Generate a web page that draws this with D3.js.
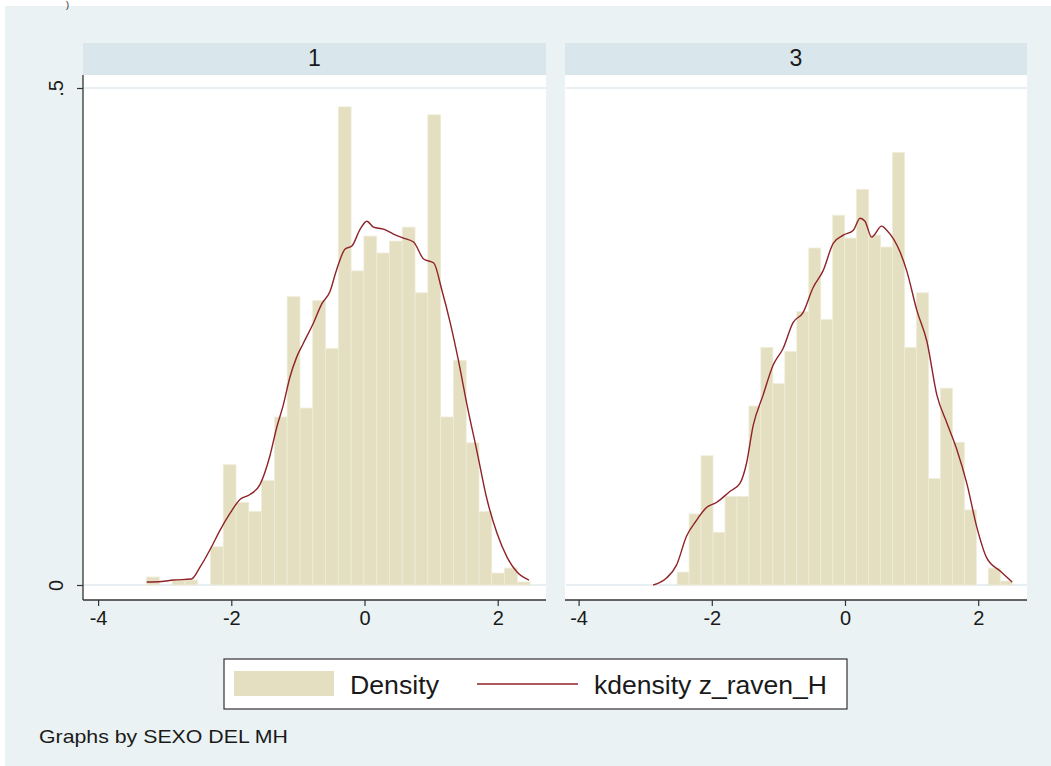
<!DOCTYPE html>
<html>
<head>
<meta charset="utf-8">
<script src="https://cdn.jsdelivr.net/npm/d3@7"></script>
<style>
  html, body { margin: 0; padding: 0; background: #ffffff; }
  svg { display: block; font-family: "Liberation Sans", Arial, Helvetica, sans-serif; }
</style>
</head>
<body>
<svg id="chart" width="1051" height="766"></svg>
<script>
// ---------- DATA ----------
const panelLabels = ["1", "3"];
const xTicks = [-4, -2, 0, 2];
const xTickLabels = ["-4", "-2", "0", "2"];
const yTicks = [0, 0.5];
const yTickLabels = ["0", ".5"];

// Histogram (30 bins per panel)
const binStartLeft = -3.273, binWidthLeft = 0.192;
const densityLeft = [0.008, 0, 0.005, 0.005, 0, 0.0385, 0.121, 0.083, 0.074, 0.105,
  0.169, 0.290, 0.178, 0.286, 0.238, 0.481, 0.316, 0.351, 0.334, 0.346,
  0.360, 0.294, 0.473, 0.169, 0.226, 0.143, 0.074, 0.012, 0.017, 0.003];

const binStartRight = -2.88, binWidthRight = 0.1797;
const densityRight = [0, 0, 0.013, 0.0715, 0.130, 0.053, 0.089, 0.089, 0.180, 0.239,
  0.2025, 0.235, 0.275, 0.339, 0.267, 0.372, 0.349, 0.398, 0.352, 0.340,
  0.435, 0.239, 0.294, 0.107, 0.198, 0.1436, 0.0755, 0, 0.017, 0.004];

// Kernel density curves
const kdeLeftX = [-3.27,-3.05,-2.87,-2.60,-2.47,-2.30,-2.17,-2.02,-1.87,-1.72,-1.57,-1.42,-1.32,-1.22,-1.12,-1.02,-0.92,-0.77,-0.64,-0.52,-0.42,-0.29,-0.19,-0.065,0.035,0.135,0.286,0.436,0.586,0.737,0.887,1.04,1.16,1.29,1.41,1.54,1.69,1.84,1.99,2.14,2.29,2.47];
const kdeLeftY = [0.003,0.0035,0.005,0.006,0.018,0.038,0.055,0.072,0.086,0.091,0.101,0.130,0.158,0.181,0.209,0.229,0.243,0.263,0.283,0.295,0.317,0.338,0.341,0.358,0.366,0.360,0.358,0.353,0.349,0.345,0.328,0.324,0.297,0.263,0.226,0.181,0.134,0.086,0.052,0.028,0.013,0.005];

const kdeRightX = [-2.88,-2.68,-2.53,-2.38,-2.23,-2.08,-1.93,-1.73,-1.58,-1.48,-1.38,-1.23,-1.08,-0.93,-0.78,-0.63,-0.48,-0.33,-0.175,-0.025,0.125,0.226,0.30,0.40,0.55,0.627,0.827,0.927,1.08,1.23,1.38,1.53,1.68,1.83,1.98,2.13,2.33,2.51];
const kdeRightY = [0,0.007,0.020,0.049,0.065,0.078,0.083,0.094,0.102,0.122,0.160,0.191,0.221,0.238,0.264,0.274,0.299,0.316,0.344,0.352,0.357,0.369,0.366,0.350,0.361,0.357,0.335,0.316,0.276,0.245,0.191,0.163,0.136,0.102,0.058,0.027,0.014,0.003];

const legendLabels = ["Density", "kdensity z_raven_H"];
const noteText = "Graphs by SEXO DEL MH";

// ---------- STYLE ----------
const C = {
  bg: "#eaf2f3", strip: "#d9e6eb", plot: "#ffffff", grid: "#dfeaee",
  bar: "#e4dfc0", barEdge: "#efecd9", line: "#8e2328", axis: "#333333", text: "#1a1a1a"
};

const svg = d3.select("#chart");
svg.append("rect").attr("x", 5).attr("y", 6).attr("width", 1046).attr("height", 760).attr("fill", C.bg);
svg.append("text").attr("x", 66).attr("y", 8).attr("font-size", 9).attr("fill", C.text).text(")");

const plotTop = 75, plotBottom = 600;
const y = d3.scaleLinear().domain([0, 0.5]).range([585, 88]);

const panels = [
  { label: panelLabels[0], x0: 83, x1: 546, range: [98.1, 497.7], start: binStartLeft, w: binWidthLeft, dens: densityLeft, kx: kdeLeftX, ky: kdeLeftY, yAxis: true },
  { label: panelLabels[1], x0: 565, x1: 1027, range: [578.6, 978.2], start: binStartRight, w: binWidthRight, dens: densityRight, kx: kdeRightX, ky: kdeRightY, yAxis: false }
];

panels.forEach(p => {
  const x = d3.scaleLinear().domain([-4, 2]).range(p.range);
  const g = svg.append("g");
  // strip
  g.append("rect").attr("x", p.x0).attr("y", 43).attr("width", p.x1 - p.x0).attr("height", 32).attr("fill", C.strip);
  g.append("text").attr("x", (p.x0 + p.x1) / 2).attr("y", 66).attr("text-anchor", "middle")
    .attr("font-size", 23).attr("fill", C.text).text(p.label);
  // plot region
  g.append("rect").attr("x", p.x0).attr("y", plotTop).attr("width", p.x1 - p.x0).attr("height", plotBottom - plotTop).attr("fill", C.plot);
  // gridlines
  g.selectAll(".grid").data(yTicks).enter().append("line")
    .attr("x1", p.x0 + 1).attr("x2", p.x1).attr("y1", d => y(d)).attr("y2", d => y(d))
    .attr("stroke", C.grid).attr("stroke-width", 1.5);
  // bars
  const bins = p.dens.map((d, i) => ({ x0: p.start + i * p.w, x1: p.start + (i + 1) * p.w, d }));
  g.selectAll(".bar").data(bins.filter(b => b.d > 0)).enter().append("rect")
    .attr("x", b => x(b.x0)).attr("width", b => x(b.x1) - x(b.x0))
    .attr("y", b => y(b.d)).attr("height", b => y(0) - y(b.d))
    .attr("fill", C.bar).attr("stroke", C.barEdge).attr("stroke-width", 0.8);
  // kdensity line
  const pts = p.kx.map((v, i) => [v, p.ky[i]]);
  g.append("path").datum(pts)
    .attr("d", d3.line().x(d => x(d[0])).y(d => y(d[1])).curve(d3.curveMonotoneX))
    .attr("fill", "none").attr("stroke", C.line).attr("stroke-width", 1.4);
  // x axis
  const xa = g.append("g").attr("transform", `translate(0,${plotBottom})`)
    .call(d3.axisBottom(x).tickValues(xTicks).tickFormat((d, i) => xTickLabels[i]).tickSize(6).tickPadding(5));
  xa.select(".domain").attr("d", `M${p.x0},0H${p.x1}`).attr("stroke", C.axis).attr("stroke-width", 1.3);
  xa.selectAll(".tick line").attr("stroke", C.axis).attr("stroke-width", 1.2);
  xa.selectAll(".tick text").attr("font-size", 20).attr("fill", C.text)
    .attr("font-family", "'Liberation Sans', Arial, sans-serif");
  // y axis
  if (p.yAxis) {
    const ya = g.append("g").attr("transform", `translate(${p.x0},0)`)
      .call(d3.axisLeft(y).tickValues(yTicks).tickSize(6).tickFormat((d, i) => yTickLabels[i]));
    ya.select(".domain").attr("d", `M0,${plotTop}V${plotBottom}`).attr("stroke", C.axis).attr("stroke-width", 1.3);
    ya.selectAll(".tick line").attr("stroke", C.axis).attr("stroke-width", 1.2);
    ya.selectAll(".tick text")
      .attr("x", null).attr("dy", null)
      .attr("transform", "translate(-20,0) rotate(-90)")
      .attr("text-anchor", "middle")
      .attr("font-size", 20).attr("fill", C.text)
      .attr("font-family", "'Liberation Sans', Arial, sans-serif");
  }
});

// legend
const lg = svg.append("g");
lg.append("rect").attr("x", 224).attr("y", 659).attr("width", 623).attr("height", 50)
  .attr("fill", "#ffffff").attr("stroke", C.axis).attr("stroke-width", 1.2);
lg.append("rect").attr("x", 234).attr("y", 671).attr("width", 100).attr("height", 25).attr("fill", C.bar);
lg.append("text").attr("x", 350).attr("y", 694).attr("font-size", 25).attr("fill", C.text)
  .attr("textLength", 89).attr("lengthAdjust", "spacingAndGlyphs").text(legendLabels[0]);
lg.append("line").attr("x1", 477).attr("x2", 578).attr("y1", 684).attr("y2", 684)
  .attr("stroke", C.line).attr("stroke-width", 1.5);
lg.append("text").attr("x", 594).attr("y", 694).attr("font-size", 25).attr("fill", C.text)
  .attr("textLength", 233).attr("lengthAdjust", "spacingAndGlyphs").text(legendLabels[1]);

svg.append("text").attr("x", 39).attr("y", 743).attr("font-size", 19).attr("fill", C.text)
  .attr("textLength", 249).attr("lengthAdjust", "spacingAndGlyphs").text(noteText);
</script>
</body>
</html>
